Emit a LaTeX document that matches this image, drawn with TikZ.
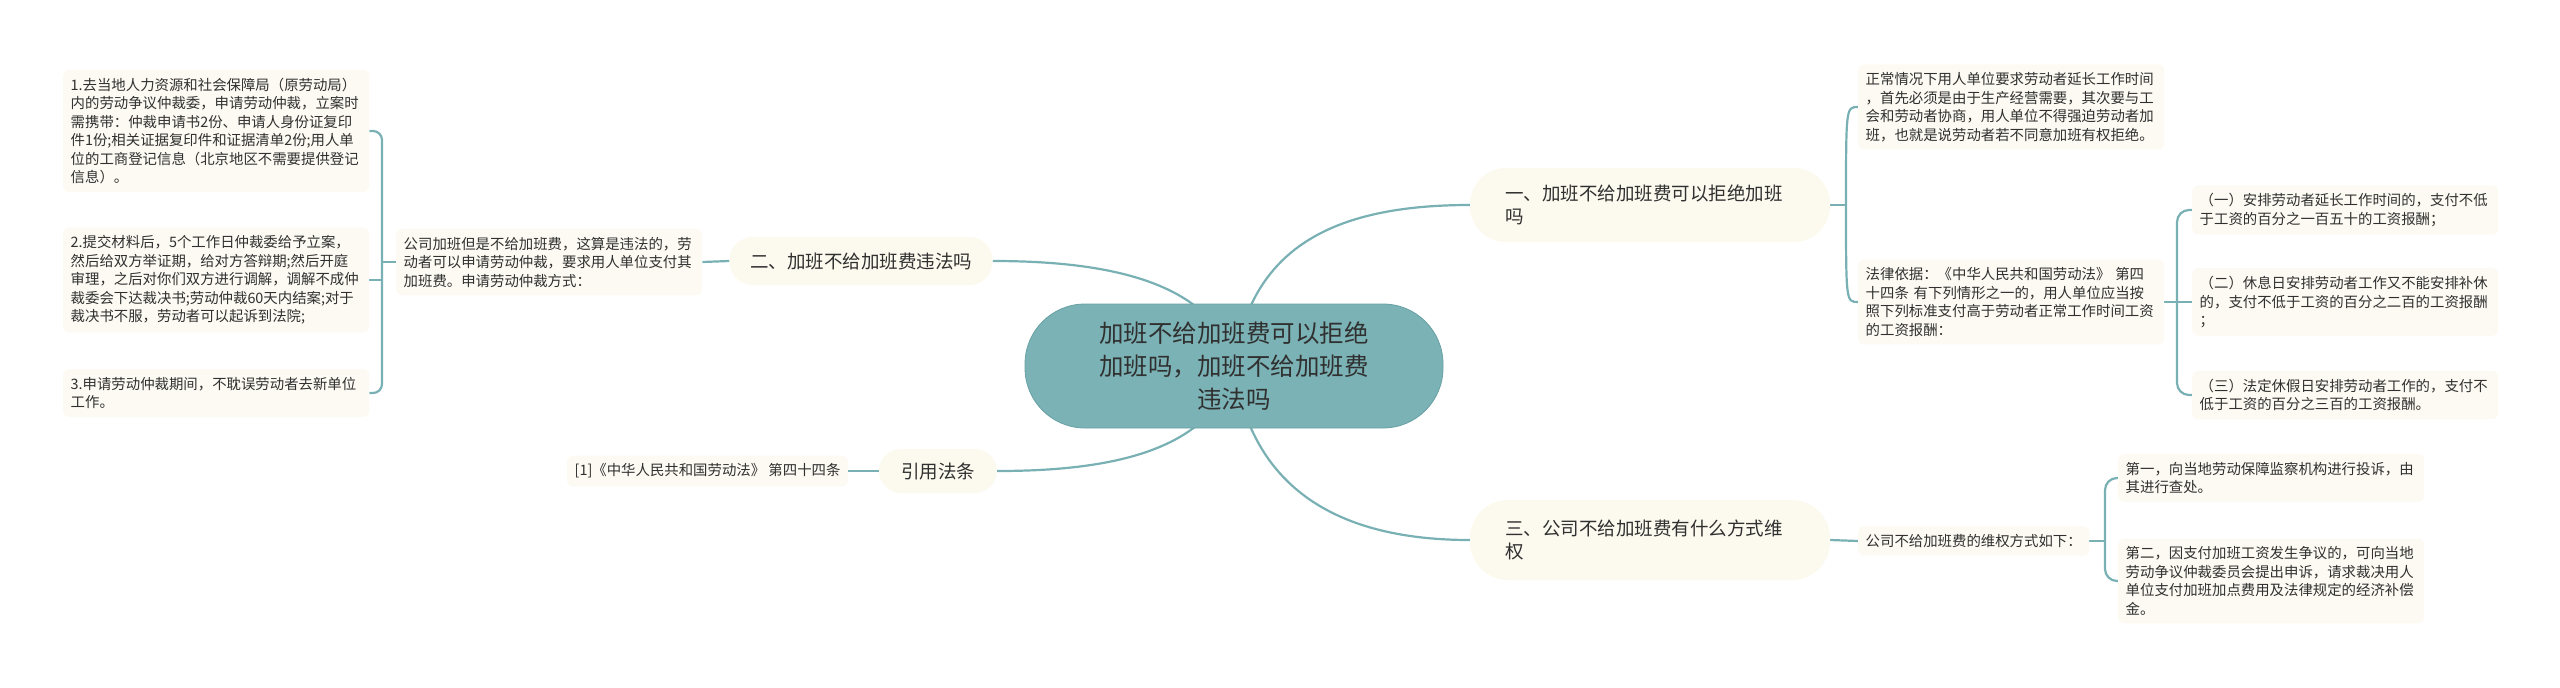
\documentclass[tikz,border=0pt]{standalone}
\usepackage{fontspec}
\newfontfamily\cjk{Noto Sans CJK SC}
\usetikzlibrary{backgrounds}
\definecolor{linkcol}{RGB}{120,176,180}
\definecolor{rootfill}{RGB}{123,178,181}
\definecolor{rootdraw}{RGB}{104,160,164}
\definecolor{pillfill}{RGB}{252,249,238}
\definecolor{leaffill}{RGB}{252,250,242}
\definecolor{ink}{RGB}{48,48,48}
\tikzset{
	link/.style={draw=linkcol, line width=2.2pt},
	leaf/.style={fill=leaffill, rounded corners=6pt, text=ink, align=left, anchor=west, inner xsep=7.5pt, inner ysep=8pt, font=\cjk\fontsize{14.4}{18.5}\selectfont},
	leafbox/.style={leaf, text width=291pt},
	branch/.style={fill=pillfill, text=ink, font=\cjk\fontsize{18.5}{23.5}\selectfont},
	root/.style={fill=rootfill, draw=rootdraw, line width=0.8pt, rounded corners=60pt, minimum width=418pt, minimum height=124pt, align=center, text=ink, font=\cjk\fontsize{24.5}{33}\selectfont}
}

\begin{document}
\begin{tikzpicture}[x=1pt, y=-1pt]
		%%%%% START %%%%%
		\useasboundingbox (0,0) rectangle (2560,688);
		
		\node[root] (X) at (1234,366) {加班不给加班费可以拒绝\\加班吗，加班不给加班费\\违法吗};
		
		% left side
		\node[branch, rounded corners=23pt, minimum width=263pt, minimum height=48pt] (B2) at (861,261) {二、加班不给加班费违法吗};
		\node[leafbox] (M2) at (396,262) {公司加班但是不给加班费，这算是违法的，劳\\动者可以申请劳动仲裁，要求用人单位支付其\\加班费。申请劳动仲裁方式：};
		\node[leafbox] (L1) at (63,131) {1.去当地人力资源和社会保障局（原劳动局）\\内的劳动争议仲裁委，申请劳动仲裁，立案时\\需携带：仲裁申请书2份、申请人身份证复印\\件1份;相关证据复印件和证据清单2份;用人单\\位的工商登记信息（北京地区不需要提供登记\\信息）。};
		\node[leafbox] (L2) at (63,280) {2.提交材料后，5个工作日仲裁委给予立案，\\然后给双方举证期，给对方答辩期;然后开庭\\审理，之后对你们双方进行调解，调解不成仲\\裁委会下达裁决书;劳动仲裁60天内结案;对于\\裁决书不服，劳动者可以起诉到法院;};
		\node[leafbox] (L3) at (63,393) {3.申请劳动仲裁期间，不耽误劳动者去新单位\\工作。};
		\coordinate (lb) at (382,262);
		
		\node[branch, rounded corners=22pt, minimum width=118pt, minimum height=44pt] (B4) at (938,471) {引用法条};
		\node[leaf] (C) at (567,471) {[1]《中华人民共和国劳动法》 第四十四条};
		
		% right side
		\node[branch, rounded corners=36pt, text width=290pt, inner xsep=35pt, minimum height=74pt, align=left] (B1) at (1650,205) {一、加班不给加班费可以拒绝加班\\吗};
		\node[leafbox] (R1) at (1858,107) {正常情况下用人单位要求劳动者延长工作时间\\，首先必须是由于生产经营需要，其次要与工\\会和劳动者协商，用人单位不得强迫劳动者加\\班，也就是说劳动者若不同意加班有权拒绝。};
		\node[leafbox] (R2) at (1858,302) {法律依据：《中华人民共和国劳动法》 第四\\十四条 有下列情形之一的，用人单位应当按\\照下列标准支付高于劳动者正常工作时间工资\\的工资报酬：};
		\node[leafbox] (S1) at (2192,210) {（一）安排劳动者延长工作时间的，支付不低\\于工资的百分之一百五十的工资报酬；};
		\node[leafbox] (S2) at (2192,302) {（二）休息日安排劳动者工作又不能安排补休\\的，支付不低于工资的百分之二百的工资报酬\\；};
		\node[leafbox] (S3) at (2192,395) {（三）法定休假日安排劳动者工作的，支付不\\低于工资的百分之三百的工资报酬。};
		\coordinate (rb1) at (1846,205);
		\coordinate (rb2) at (2177,302);
		
		\node[branch, rounded corners=38pt, text width=290pt, inner xsep=35pt, minimum height=80pt, align=left] (B3) at (1650,540) {三、公司不给加班费有什么方式维\\权};
		\node[leaf] (M3) at (1858,541) {公司不给加班费的维权方式如下：};
		\node[leafbox] (Ta) at (2118,478) {第一，向当地劳动保障监察机构进行投诉，由\\其进行查处。};
		\node[leafbox] (Tb) at (2118,581) {第二，因支付加班工资发生争议的，可向当地\\劳动争议仲裁委员会提出申诉，请求裁决用人\\单位支付加班加点费用及法律规定的经济补偿\\金。};
		\coordinate (rb3) at (2105,541);
		
		\begin{scope}[on background layer]
			% from the root
			\draw[link] (X.center) .. controls +(16,-116) and +(-140,0) .. (B1.west);
			\draw[link] (X.center) .. controls +(16,116) and +(-140,0) .. (B3.west);
			\draw[link] (X.center) .. controls +(-20,-90) and +(100,0) .. (B2.east);
			\draw[link] (X.center) .. controls +(-20,90) and +(100,0) .. (B4.east);
			
			\draw[link] (B2.west) -- (M2.east);
			\draw[link] (M2.west) -- (lb);
			\draw[link, rounded corners=9pt] (L1.east) -| (lb) |- (L3.east);
			\draw[link] (L2.east) -- (L2.east -| lb);
			\draw[link] (B4.west) -- (C.east);
			
			\draw[link] (B1.east) -- (rb1);
			\draw[link] (R1.west) .. controls (R1.west -| rb1) .. (rb1) .. controls (R2.west -| rb1) .. (R2.west);
			\draw[link] (R2.east) -- (rb2) -- (S2.west);
			\draw[link, rounded corners=12pt] (S1.west) -| (rb2) |- (S3.west);
			
			\draw[link] (B3.east) -- (M3.west);
			\draw[link] (M3.east) -- (rb3);
			\draw[link, rounded corners=12pt] (Ta.west) -| (rb3) |- (Tb.west);
		\end{scope}
		%%%%% END %%%%%
\end{tikzpicture}
\end{document}
